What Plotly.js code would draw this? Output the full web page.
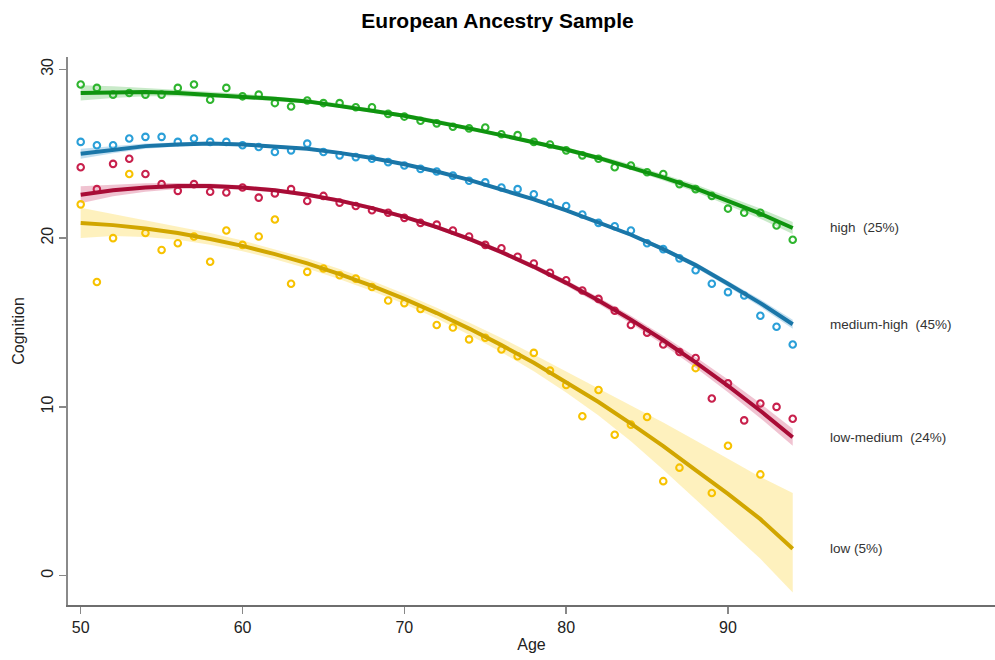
<!DOCTYPE html>
<html>
<head>
<meta charset="utf-8">
<script src="https://cdn.plot.ly/plotly-3.0.1.min.js"></script>
<style>html,body{margin:0;padding:0;background:#fff;}#chart{width:995px;height:660px;}</style>
</head>
<body>
<div id="chart"></div>
<script>
// Observed ages
var ages = [50,51,52,53,54,55,56,57,58,59,60,61,62,63,64,65,66,67,68,69,70,71,72,73,74,75,76,77,78,79,80,81,82,83,84,85,86,87,88,89,90,91,92,93,94];

// Observed mean cognition per class
var highPts = [29.1,28.9,28.5,28.6,28.5,28.5,28.9,29.1,28.2,28.9,28.4,28.5,28.0,27.8,28.15,28.0,28.0,27.75,27.75,27.36,27.2,26.95,26.8,26.6,26.5,26.55,26.15,26.1,25.7,25.55,25.2,24.9,24.7,24.2,24.3,23.9,23.8,23.2,22.9,22.5,21.75,21.5,21.5,20.75,19.9];
var medHighPts = [25.7,25.5,25.5,25.9,26.0,26.0,25.7,25.9,25.7,25.7,25.5,25.4,25.1,25.2,25.6,25.1,24.9,24.8,24.7,24.5,24.3,24.1,23.95,23.7,23.4,23.3,23.0,22.9,22.6,22.1,21.9,21.4,20.9,20.7,20.45,19.7,19.35,18.8,18.1,17.3,16.8,16.6,15.4,14.75,13.7];
var lowMedPts = [24.2,22.9,24.4,24.7,23.8,23.2,22.8,23.2,22.75,22.7,23.0,22.4,22.65,22.9,22.2,22.5,22.1,21.9,21.65,21.5,21.2,20.9,20.8,20.45,20.1,19.6,19.4,18.9,18.5,17.95,17.5,16.9,16.4,15.7,14.85,14.4,13.7,13.25,12.9,10.5,11.4,9.2,10.2,10.0,9.3];
var lowPts = [22.0,17.4,20.0,23.8,20.3,19.3,19.7,20.1,18.6,20.45,19.6,20.1,21.1,17.3,18.0,18.2,17.8,17.6,17.1,16.3,16.15,15.8,14.85,14.7,14.0,14.1,13.4,13.0,13.2,12.15,11.3,9.45,11.0,8.35,8.95,9.4,5.6,6.4,12.3,4.9,7.7,null,6.0,null,null];

// Fitted trajectories and confidence bands
var fitAges = [50,52,54,56,58,60,62,64,66,68,70,72,74,76,78,80,82,84,86,88,90,92,94];
var highFit = [28.6,28.65,28.65,28.6,28.5,28.4,28.25,28.1,27.85,27.55,27.25,26.9,26.5,26.1,25.7,25.25,24.75,24.2,23.6,22.95,22.2,21.45,20.6];
var highLo  = [28.15,28.3,28.4,28.4,28.33,28.25,28.11,27.97,27.73,27.43,27.13,26.78,26.38,25.98,25.57,25.11,24.6,24.03,23.41,22.73,21.94,21.15,20.25];
var highHi  = [29.05,29.0,28.9,28.8,28.67,28.55,28.39,28.23,27.97,27.67,27.37,27.02,26.62,26.22,25.83,25.39,24.9,24.37,23.79,23.17,22.46,21.75,20.95];
var medHighFit = [25.0,25.25,25.45,25.55,25.6,25.55,25.45,25.3,25.05,24.75,24.38,23.95,23.45,22.9,22.3,21.65,20.95,20.2,19.35,18.4,17.3,16.15,14.9];
var medHighLo  = [24.7,25.03,25.29,25.43,25.5,25.46,25.37,25.22,24.97,24.67,24.3,23.87,23.37,22.82,22.21,21.56,20.85,20.09,19.22,18.25,17.12,15.93,14.63];
var medHighHi  = [25.3,25.47,25.61,25.67,25.7,25.64,25.53,25.38,25.13,24.83,24.46,24.03,23.53,22.98,22.39,21.74,21.05,20.31,19.48,18.55,17.48,16.37,15.17];
var lowMedFit = [22.57,22.83,23.0,23.09,23.09,23.0,22.83,22.57,22.22,21.78,21.26,20.65,19.96,19.17,18.3,17.35,16.3,15.17,13.95,12.64,11.25,9.77,8.2];
var lowMedLo  = [22.07,22.48,22.75,22.91,22.94,22.87,22.71,22.45,22.1,21.66,21.14,20.53,19.83,19.03,18.15,17.18,16.1,14.94,13.68,12.32,10.87,9.33,7.7];
var lowMedHi  = [23.07,23.18,23.25,23.27,23.24,23.13,22.95,22.69,22.34,21.9,21.38,20.77,20.09,19.31,18.45,17.52,16.5,15.4,14.22,12.96,11.63,10.21,8.7];
var lowFit = [20.9,20.77,20.57,20.3,19.95,19.54,19.05,18.5,17.87,17.17,16.4,15.56,14.64,13.66,12.61,11.48,10.29,9.01,7.68,6.26,4.85,3.35,1.6];
var lowLo  = [20.0,20.12,20.07,19.9,19.6,19.22,18.75,18.2,17.57,16.87,16.1,15.24,14.28,13.24,12.11,10.86,9.49,7.96,6.28,4.51,2.75,1.0,-1.0];
var lowHi  = [21.8,21.42,21.07,20.7,20.3,19.86,19.35,18.8,18.17,17.47,16.7,15.88,15.0,14.08,13.11,12.1,11.09,10.06,9.08,8.01,6.95,5.85,4.9];

var classLabels = ["high  (25%)", "medium-high  (45%)", "low-medium  (24%)", "low (5%)"];
var xTicks = [50,60,70,80,90];
var yTicks = [0,10,20,30];

var groups = [
  {pts: highPts, fit: highFit, lo: highLo, hi: highHi, line: "#0f940f", pt: "#2fb52f", band: "rgba(60,180,60,0.28)"},
  {pts: medHighPts, fit: medHighFit, lo: medHighLo, hi: medHighHi, line: "#1a76a8", pt: "#2a9fd8", band: "rgba(40,140,200,0.28)"},
  {pts: lowMedPts, fit: lowMedFit, lo: lowMedLo, hi: lowMedHi, line: "#a80c36", pt: "#c8204c", band: "rgba(200,40,90,0.28)"},
  {pts: lowPts, fit: lowFit, lo: lowLo, hi: lowHi, line: "#d1a600", pt: "#f7c200", band: "rgba(252,225,110,0.45)"}
];

var traces = [];
groups.forEach(function(g){
  traces.push({x: fitAges, y: g.lo, mode: "lines", line: {width: 0, color: g.band}, hoverinfo: "skip", showlegend: false});
  traces.push({x: fitAges, y: g.hi, mode: "lines", fill: "tonexty", fillcolor: g.band, line: {width: 0, color: g.band}, hoverinfo: "skip", showlegend: false});
});
groups.forEach(function(g){
  traces.push({x: ages, y: g.pts, mode: "markers", marker: {symbol: "circle-open", size: 6.5, color: g.pt, line: {width: 2.1, color: g.pt}}, showlegend: false});
});
groups.forEach(function(g){
  traces.push({x: fitAges, y: g.fit, mode: "lines", line: {width: 4, color: g.line}, showlegend: false});
});

var annotations = classLabels.map(function(t, i){
  var f = groups[i].fit;
  return {x: 96.2, y: f[f.length-1], xref: "x", yref: "y", text: t, showarrow: false, xanchor: "left", yanchor: "middle",
          font: {family: "Liberation Sans, Arial, sans-serif", size: 13.5, color: "#333"}};
});

var layout = {
  width: 995, height: 660,
  margin: {l: 68, r: 0, t: 57, b: 55},
  paper_bgcolor: "#fff", plot_bgcolor: "#fff",
  font: {family: "Liberation Sans, Arial, sans-serif", color: "#222"},
  title: {text: "<b>European Ancestry Sample</b>", x: 0.5, xref: "container", xanchor: "center", y: 0.968, yref: "container", yanchor: "middle",
          font: {family: "Liberation Sans, Arial, sans-serif", size: 21, color: "#000"}},
  xaxis: {range: [49.215, 106.5], tickvals: xTicks, ticktext: xTicks.map(String), ticks: "outside", ticklen: 7, tickwidth: 1.5, tickcolor: "#888",
          showline: true, linecolor: "#6e6e6e", linewidth: 2, showgrid: false, zeroline: false,
          tickfont: {size: 16, color: "#222"}, title: {text: "Age", font: {size: 16, color: "#222"}, standoff: 4}},
  yaxis: {range: [-1.736, 30.73], tickvals: yTicks, ticktext: yTicks.map(String), ticks: "outside", ticklen: 7, tickwidth: 1.5, tickcolor: "#888",
          tickangle: -90, showline: true, linecolor: "#8a8a8a", linewidth: 2, showgrid: false, zeroline: false,
          tickfont: {size: 16, color: "#222"}, title: {text: "Cognition", font: {size: 16, color: "#222"}, standoff: 10}},
  annotations: annotations,
  showlegend: false
};

Plotly.newPlot("chart", traces, layout, {displayModeBar: false, staticPlot: true});
</script>
</body>
</html>
